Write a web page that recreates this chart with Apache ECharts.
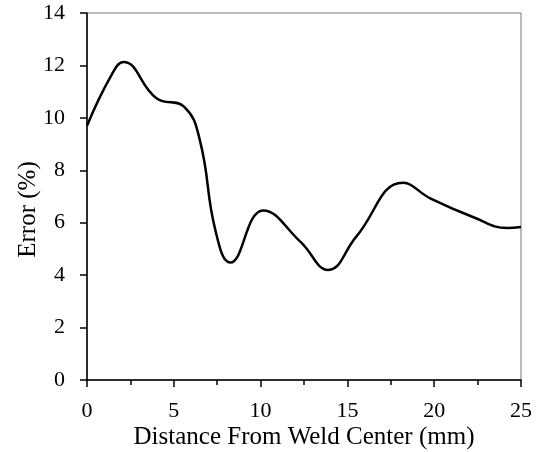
<!DOCTYPE html>
<html>
<head>
<meta charset="utf-8">
<script src="https://cdn.jsdelivr.net/npm/echarts@6/dist/echarts.min.js"></script>
<style>html,body{margin:0;padding:0;background:#fff}#c{width:544px;height:452px}</style>
</head>
<body>
<div id="c"></div>
<script>
const distance = [0, 1.4, 2.1, 4.0, 5.6, 6.5, 7.4, 8.25, 10.15, 12.3, 13.9, 15.5, 18.2, 19.8, 22.3, 24.2, 25];
const errorPct = [9.7, 11.62, 12.13, 10.75, 10.42, 9.15, 5.7, 4.48, 6.47, 5.27, 4.2, 5.46, 7.52, 6.92, 6.2, 5.8, 5.84];
const xTicks = [0, 5, 10, 15, 20, 25];
const yTicks = [0, 2, 4, 6, 8, 10, 12, 14];

const font = "'Liberation Serif', 'Times New Roman', serif";
const chart = echarts.init(document.getElementById('c'));
chart.setOption({
  animation: false,
  grid: { left: 87, right: 23, top: 13, bottom: 72, outerBoundsMode: 'none', containLabel: false, show: true, borderColor: '#777', borderWidth: 1 },
  xAxis: {
    type: 'value', min: xTicks[0], max: xTicks[xTicks.length - 1], interval: 5,
    name: 'Distance From Weld Center (mm)', nameLocation: 'middle', nameGap: 45, nameMoveOverlap: false,
    nameTextStyle: { fontFamily: font, fontSize: 25, color: '#000' },
    axisLine: { lineStyle: { color: '#000', width: 1.5 } },
    axisTick: { length: 7, lineStyle: { color: '#000', width: 1.5 } },
    minorTick: { show: true, splitNumber: 2, length: 5, lineStyle: { color: '#000', width: 1.5 } },
    axisLabel: { fontFamily: font, fontSize: 22, color: '#000', margin: 20 },
    splitLine: { show: false }
  },
  yAxis: {
    type: 'value', min: yTicks[0], max: yTicks[yTicks.length - 1], interval: 2,
    name: 'Error (%)', nameLocation: 'middle', nameGap: 46, nameMoveOverlap: false,
    nameTextStyle: { fontFamily: font, fontSize: 25, color: '#000', padding: [0, 26, 0, 0] },
    axisLine: { show: true, lineStyle: { color: '#000', width: 1.5 } },
    axisTick: { show: true, length: 7, lineStyle: { color: '#000', width: 1.5 } },
    axisLabel: { fontFamily: font, fontSize: 22, color: '#000', margin: 22 },
    splitLine: { show: false }
  },
  series: [{
    type: 'line',
    data: distance.map((d, i) => [d, errorPct[i]]),
    smooth: 0.45,
    showSymbol: false,
    lineStyle: { color: '#000', width: 2.5 }
  }]
});
</script>
</body>
</html>
